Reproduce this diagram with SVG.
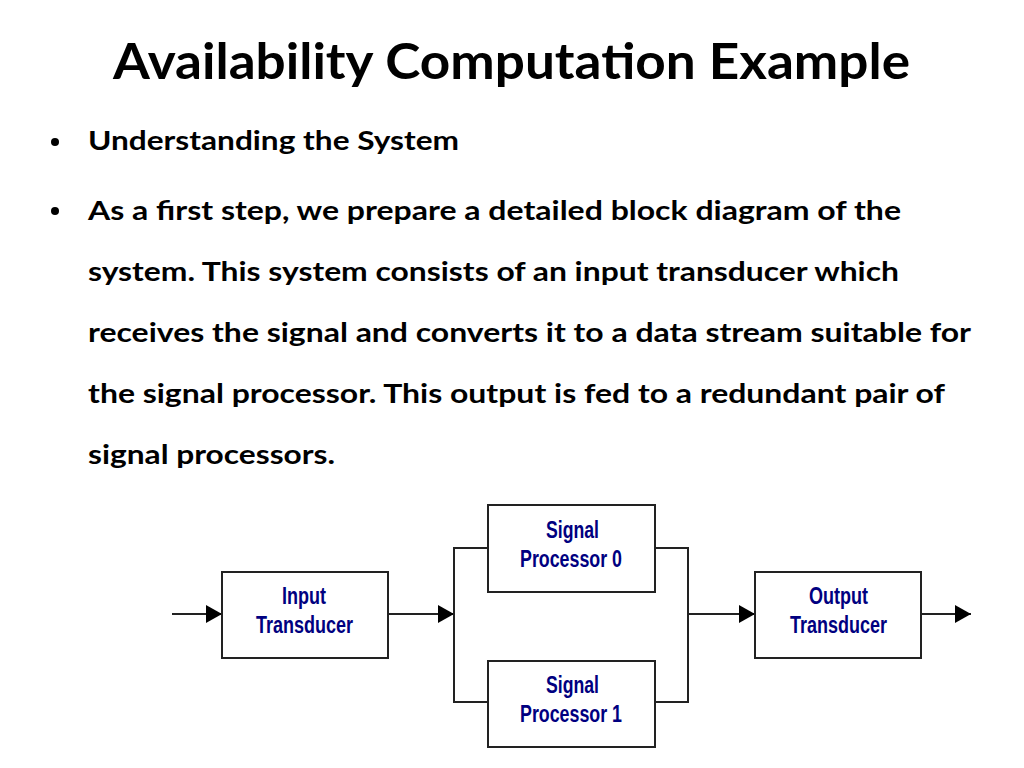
<svg xmlns="http://www.w3.org/2000/svg" width="1024" height="768" viewBox="0 0 1024 768">
<style>
.title{font-family:Lato,"Open Sans","Liberation Sans",sans-serif;font-weight:bold;font-size:50px;fill:#000}
.body{font-family:Lato,"Open Sans","Liberation Sans",sans-serif;font-weight:bold;font-size:26px;fill:#000}
.lbl{font-family:"Liberation Sans",Arial,sans-serif;font-weight:bold;font-size:23px;fill:#000080}
.box{fill:#fff;stroke:#222;stroke-width:2}
.wire{fill:none;stroke:#222;stroke-width:2}
</style>
<defs>
<marker id="ah" markerUnits="userSpaceOnUse" markerWidth="16" markerHeight="18" refX="16" refY="9" orient="auto">
<path d="M0,0 L16,9 L0,18 z" fill="#000"/>
</marker>
</defs>
<rect width="1024" height="768" fill="#fff"/>
<text class="title" x="113" y="79" textLength="797" lengthAdjust="spacingAndGlyphs">Availability Computation Example</text>
<circle cx="55" cy="142" r="4" fill="#000"/>
<circle cx="55" cy="211" r="4" fill="#000"/>
<text class="body" x="88" y="150" textLength="371" lengthAdjust="spacingAndGlyphs">Understanding the System</text>
<text class="body" x="88" y="220" textLength="813" lengthAdjust="spacingAndGlyphs">As a first step, we prepare a detailed block diagram of the</text>
<text class="body" x="88" y="281" textLength="811" lengthAdjust="spacingAndGlyphs">system. This system consists of an input transducer which</text>
<text class="body" x="88" y="342" textLength="883" lengthAdjust="spacingAndGlyphs">receives the signal and converts it to a data stream suitable for</text>
<text class="body" x="88" y="403" textLength="857" lengthAdjust="spacingAndGlyphs">the signal processor. This output is fed to a redundant pair of</text>
<text class="body" x="88" y="464" textLength="247" lengthAdjust="spacingAndGlyphs">signal processors.</text>
<g id="connectors">
<line class="wire" x1="172" y1="614" x2="222" y2="614" marker-end="url(#ah)"/>
<line class="wire" x1="388" y1="614" x2="454" y2="614" marker-end="url(#ah)"/>
<path class="wire" d="M488,548 H454 V702 H488"/>
<path class="wire" d="M655,548 H688 V702 H655"/>
<line class="wire" x1="688" y1="614" x2="755" y2="614" marker-end="url(#ah)"/>
<line class="wire" x1="921" y1="614" x2="971" y2="614" marker-end="url(#ah)"/>
</g>
<g id="input-transducer">
<rect class="box" x="222" y="572" width="166" height="86"/>
<text class="lbl" x="282" y="604" textLength="44" lengthAdjust="spacingAndGlyphs">Input</text>
<text class="lbl" x="256" y="633" textLength="97" lengthAdjust="spacingAndGlyphs">Transducer</text>
</g>
<g id="signal-processor-0">
<rect class="box" x="488" y="505" width="167" height="87"/>
<text class="lbl" x="546" y="538" textLength="53" lengthAdjust="spacingAndGlyphs">Signal</text>
<text class="lbl" x="520" y="567" textLength="102" lengthAdjust="spacingAndGlyphs">Processor 0</text>
</g>
<g id="signal-processor-1">
<rect class="box" x="488" y="661" width="167" height="86"/>
<text class="lbl" x="546" y="693" textLength="53" lengthAdjust="spacingAndGlyphs">Signal</text>
<text class="lbl" x="520" y="722" textLength="102" lengthAdjust="spacingAndGlyphs">Processor 1</text>
</g>
<g id="output-transducer">
<rect class="box" x="755" y="572" width="166" height="86"/>
<text class="lbl" x="809" y="604" textLength="59" lengthAdjust="spacingAndGlyphs">Output</text>
<text class="lbl" x="790" y="633" textLength="97" lengthAdjust="spacingAndGlyphs">Transducer</text>
</g>
</svg>
